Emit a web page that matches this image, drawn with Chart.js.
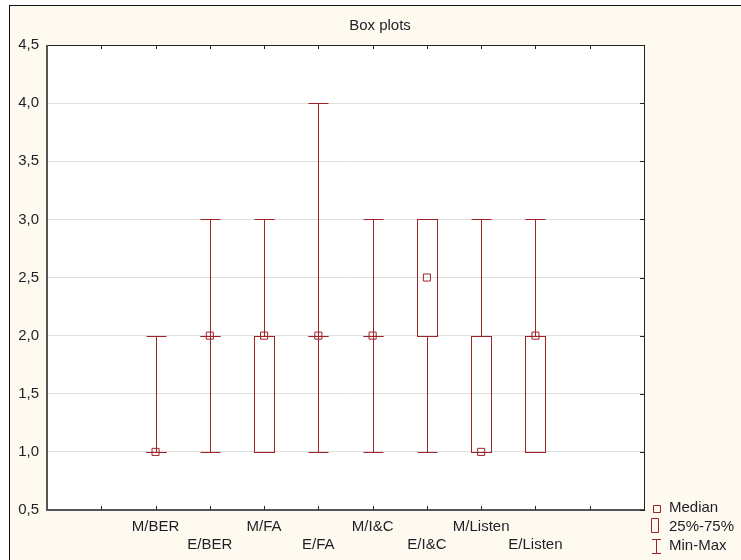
<!DOCTYPE html>
<html>
<head>
<meta charset="utf-8">
<script src="https://cdn.jsdelivr.net/npm/chart.js@4/dist/chart.umd.min.js"></script>
<style>
  html, body { margin: 0; padding: 0; background: #fff; overflow: hidden; }
  #frame {
    position: absolute; left: 9px; top: 5px; width: 760px; height: 580px;
    border-left: 1px solid #111; border-top: 1px solid #111;
    background: #fffaf0;
  }
  #wrap { position: absolute; left: 0; top: 0; width: 741px; height: 560px; }
</style>
</head>
<body>
<div id="frame"></div>
<div id="wrap"><canvas id="box-chart" width="741" height="560"></canvas></div>
<script>
const categories = ['M/BER', 'E/BER', 'M/FA', 'E/FA', 'M/I&C', 'E/I&C', 'M/Listen', 'E/Listen'];
const minVals    = [1, 1, 1, 1, 1, 1, 1, 1];
const q1Vals     = [1, 2, 1, 2, 2, 2, 1, 1];
const medianVals = [1, 2, 2, 2, 2, 2.5, 1, 2];
const q3Vals     = [1, 2, 2, 2, 2, 3, 2, 2];
const maxVals    = [2, 3, 3, 4, 3, 3, 3, 3];
const yTicks     = [0.5, 1, 1.5, 2, 2.5, 3, 3.5, 4, 4.5];

const boxColor = '#9e2327';
const textColor = '#1e1e26';
const fontFamily = '"Liberation Sans", Arial, sans-serif';
const halfWidth = 10;

// categories sit at x = 2..9 on a 0..11 axis, ticks at 1..10
const slotOf = i => i + 2;

const crisp = v => Math.round(v) + 0.5;

const boxPlotPlugin = {
  id: 'boxPlot',
  beforeDraw(chart) {
    const { ctx, chartArea: a } = chart;
    ctx.save();
    ctx.fillStyle = '#fff';
    ctx.fillRect(a.left, a.top, a.right - a.left, a.bottom - a.top);
    ctx.restore();
  },
  beforeDatasetsDraw(chart) {
    const { ctx, scales: { x, y } } = chart;
    ctx.save();
    ctx.strokeStyle = boxColor;
    ctx.lineWidth = 1;
    categories.forEach((cat, i) => {
      const px = crisp(x.getPixelForValue(slotOf(i)));
      const yMin = crisp(y.getPixelForValue(minVals[i]));
      const yMax = crisp(y.getPixelForValue(maxVals[i]));
      const yQ1 = crisp(y.getPixelForValue(q1Vals[i]));
      const yQ3 = crisp(y.getPixelForValue(q3Vals[i]));

      ctx.beginPath();
      // whiskers
      ctx.moveTo(px, yMax); ctx.lineTo(px, yQ3);
      ctx.moveTo(px, yQ1); ctx.lineTo(px, yMin);
      // caps
      ctx.moveTo(px - halfWidth, yMax); ctx.lineTo(px + halfWidth, yMax);
      ctx.moveTo(px - halfWidth, yMin); ctx.lineTo(px + halfWidth, yMin);
      ctx.stroke();

      // 25%-75% box
      ctx.strokeRect(px - halfWidth, yQ3, halfWidth * 2, yQ1 - yQ3);
    });
    ctx.restore();
  },
  afterDraw(chart) {
    const { ctx, chartArea: a, scales: { x, y } } = chart;
    ctx.save();

    // frame: heavy left/bottom axes, thin top/right
    ctx.strokeStyle = '#222';
    ctx.lineWidth = 1;
    ctx.strokeRect(crisp(a.left), crisp(a.top), Math.round(a.right - a.left), Math.round(a.bottom - a.top));
    ctx.strokeStyle = '#555';
    ctx.lineWidth = 2;
    ctx.beginPath();
    ctx.moveTo(Math.round(a.left), Math.round(a.top));
    ctx.lineTo(Math.round(a.left), Math.round(a.bottom));
    ctx.lineTo(Math.round(a.right), Math.round(a.bottom));
    ctx.stroke();

    // inner tick marks
    ctx.strokeStyle = '#222';
    ctx.lineWidth = 1;
    ctx.beginPath();
    x.ticks.forEach(t => {
      const px = crisp(x.getPixelForValue(t.value));
      ctx.moveTo(px, a.top); ctx.lineTo(px, a.top + 4);
      ctx.moveTo(px, a.bottom); ctx.lineTo(px, a.bottom - 4);
    });
    y.ticks.forEach(t => {
      const py = crisp(y.getPixelForValue(t.value));
      ctx.moveTo(a.right, py); ctx.lineTo(a.right - 4, py);
    });
    ctx.stroke();

    ctx.fillStyle = textColor;
    ctx.font = '15px ' + fontFamily;
    ctx.textBaseline = 'middle';

    // title, centred on the outer frame
    ctx.textAlign = 'center';
    ctx.fillText('Box plots', 380, 26);

    // legend
    const lx = 656, tx = 669;
    ctx.strokeStyle = boxColor;
    ctx.beginPath();
    ctx.rect(653.5, 505.5, 7, 7);
    ctx.rect(651.5, 518.5, 7, 14);
    ctx.moveTo(lx - 4, 539.5); ctx.lineTo(lx + 5, 539.5);
    ctx.moveTo(lx + 0.5, 539.5); ctx.lineTo(lx + 0.5, 553.5);
    ctx.moveTo(lx - 4, 553.5); ctx.lineTo(lx + 5, 553.5);
    ctx.stroke();

    ctx.textAlign = 'left';
    ctx.fillText('Median', tx, 508);
    ctx.fillText('25%-75%', tx, 527);
    ctx.fillText('Min-Max', tx, 546);
    ctx.restore();
  }
};

new Chart(document.getElementById('box-chart'), {
  type: 'scatter',
  data: {
    datasets: [{
      label: 'Median',
      data: medianVals.map((v, i) => ({ x: slotOf(i), y: v })),
      pointStyle: 'rect',
      pointRadius: 5,
      pointBorderWidth: 1,
      borderColor: boxColor,
      backgroundColor: 'rgba(0,0,0,0)'
    }]
  },
  options: {
    responsive: false,
    animation: false,
    layout: { padding: { left: 0, top: 45, right: 97, bottom: 0 } },
    plugins: {
      legend: { display: false },
      tooltip: { enabled: false },
      title: { display: false }
    },
    scales: {
      x: {
        type: 'linear',
        min: 0,
        max: 11,
        afterBuildTicks: scale => {
          scale.ticks = [1, 2, 3, 4, 5, 6, 7, 8, 9, 10].map(v => ({ value: v }));
        },
        afterFit: scale => { scale.height = 50; },
        grid: { display: false, drawTicks: false },
        border: { display: false },
        ticks: {
          padding: 8,
          color: textColor,
          maxRotation: 0,
          autoSkip: false,
          font: { family: fontFamily, size: 15, lineHeight: 1.2 },
          callback: value => {
            const i = value - 2;
            if (i < 0 || i >= categories.length) return '';
            return i % 2 === 0 ? categories[i] : ['', categories[i]];
          }
        }
      },
      y: {
        min: 0.5,
        max: 4.5,
        afterBuildTicks: scale => {
          scale.ticks = yTicks.map(v => ({ value: v }));
        },
        afterFit: scale => { scale.width = 47; },
        grid: { color: '#dedede', lineWidth: 1, drawTicks: false },
        border: { display: false },
        ticks: {
          padding: 8,
          color: textColor,
          font: { family: fontFamily, size: 15 },
          callback: value => value.toFixed(1).replace('.', ',')
        }
      }
    }
  },
  plugins: [boxPlotPlugin]
});
</script>
</body>
</html>
